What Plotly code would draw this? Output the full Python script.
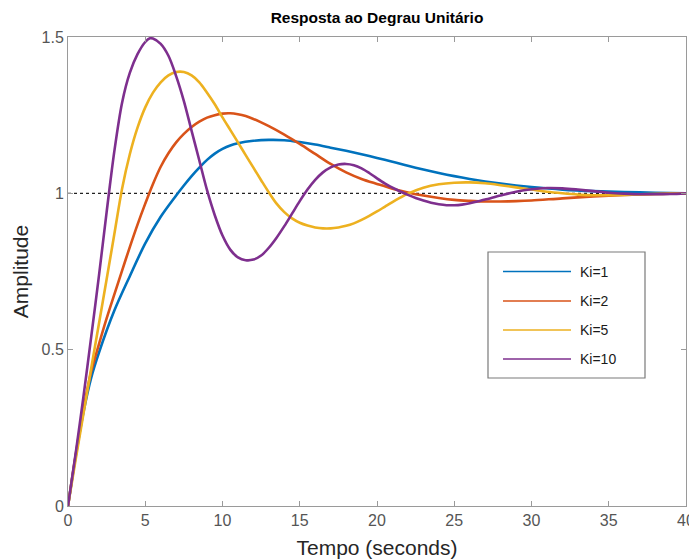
import plotly.graph_objects as go

# ---- data (time in s, amplitude) ----
t_ki1 = [0, 0.5, 1, 1.5, 2, 3, 4, 5, 6, 7, 7.5, 8, 8.5, 9, 9.5, 10, 10.5, 11, 12, 13, 14, 15,
         16, 17, 18, 19, 20, 21, 22, 23, 24, 25, 26, 27, 28, 29, 30, 32, 34, 36, 38, 40]
y_ki1 = [0, 0.16, 0.3, 0.41, 0.49, 0.625, 0.735, 0.84, 0.925, 0.993, 1.025, 1.055, 1.082,
         1.107, 1.127, 1.142, 1.153, 1.16, 1.168, 1.171, 1.17, 1.164, 1.156, 1.146, 1.136,
         1.125, 1.113, 1.101, 1.088, 1.076, 1.065, 1.055, 1.046, 1.038, 1.031, 1.025, 1.02,
         1.012, 1.007, 1.004, 1.002, 1.0]

t_ki2 = [0, 0.5, 1, 1.5, 2, 2.5, 3, 3.5, 4, 4.5, 5, 5.5, 6, 6.5, 7, 7.5, 8, 8.5, 9, 9.5, 10,
         10.5, 11, 11.5, 12, 12.5, 13, 14, 15, 16, 17, 18, 19, 20, 21, 22, 23, 24, 25, 26, 27,
         28, 29, 30, 32, 34, 36, 38, 40]
y_ki2 = [0, 0.165, 0.31, 0.43, 0.517, 0.6, 0.677, 0.753, 0.828, 0.9, 0.967, 1.03, 1.085,
         1.128, 1.163, 1.19, 1.212, 1.229, 1.242, 1.25, 1.255, 1.256, 1.253, 1.247, 1.238,
         1.227, 1.215, 1.188, 1.158, 1.126, 1.094, 1.067, 1.046, 1.03, 1.015, 1.003, 0.993,
         0.985, 0.979, 0.976, 0.974, 0.974, 0.975, 0.977, 0.984, 0.99, 0.995, 0.998, 1.0]

t_ki5 = [0, 0.5, 1, 1.5, 2, 2.5, 3, 3.5, 4, 4.5, 5, 5.5, 6, 6.5, 7, 7.5, 8, 8.5, 9, 9.5, 10,
         10.5, 11, 11.5, 12, 12.5, 13, 13.5, 14, 14.5, 15, 15.5, 16, 16.5, 17, 17.5, 18, 18.5,
         19, 19.5, 20, 20.5, 21, 21.5, 22, 23, 24, 25, 26, 27, 28, 29, 30, 31, 32, 33, 34, 35,
         36, 38, 40]
y_ki5 = [0, 0.15, 0.295, 0.44, 0.582, 0.725, 0.87, 1.015, 1.125, 1.21, 1.275, 1.322, 1.355,
         1.377, 1.388, 1.388, 1.377, 1.355, 1.322, 1.285, 1.243, 1.203, 1.163, 1.122, 1.082,
         1.042, 1.003, 0.967, 0.94, 0.92, 0.906, 0.897, 0.891, 0.888, 0.888, 0.891, 0.896,
         0.904, 0.915, 0.928, 0.942, 0.957, 0.972, 0.986, 0.999, 1.018, 1.029, 1.034, 1.035,
         1.032, 1.026, 1.019, 1.012, 1.005, 1.0, 0.996, 0.994, 0.994, 0.995, 0.998, 1.0]

t_ki10 = [0, 0.5, 1, 1.5, 2, 2.5, 3, 3.5, 4, 4.5, 5, 5.3, 5.5, 6, 6.5, 7, 7.5, 8, 8.5, 9, 9.5,
          10, 10.5, 11, 11.5, 12, 12.5, 13, 13.5, 14, 14.5, 15, 15.5, 16, 16.5, 17, 17.5, 18,
          18.5, 19, 19.5, 20, 20.5, 21, 21.5, 22, 22.5, 23, 23.5, 24, 24.5, 25, 25.5, 26, 26.5,
          27, 28, 29, 30, 31, 32, 33, 34, 35, 36, 37, 38, 39, 40]
y_ki10 = [0, 0.17, 0.35, 0.54, 0.735, 0.94, 1.135, 1.29, 1.385, 1.445, 1.484, 1.496, 1.495,
          1.478, 1.44, 1.375, 1.295, 1.2, 1.105, 1.01, 0.93, 0.865, 0.82, 0.795, 0.786, 0.788,
          0.801, 0.826, 0.858, 0.895, 0.935, 0.975, 1.012, 1.043, 1.067, 1.083, 1.092, 1.094,
          1.09, 1.08, 1.065, 1.048, 1.032, 1.018, 1.006, 0.995, 0.985, 0.977, 0.97, 0.965,
          0.962, 0.962, 0.964, 0.968, 0.974, 0.98, 0.993, 1.005, 1.013, 1.017, 1.016, 1.012,
          1.007, 1.002, 0.999, 0.997, 0.997, 0.998, 1.0]

series_names = ["Ki=1", "Ki=2", "Ki=5", "Ki=10"]
series_t = [t_ki1, t_ki2, t_ki5, t_ki10]
series_y = [y_ki1, y_ki2, y_ki5, y_ki10]
colors = ["#0072BD", "#D95319", "#EDB120", "#7E2F8E"]

final_value = 1.0
x_ticks = [0, 5, 10, 15, 20, 25, 30, 35, 40]
y_ticks = [0, 0.5, 1, 1.5]
y_ticktext = ["0", "0.5", "1", "1.5"]

FONT = "Liberation Sans, Arial, Helvetica, sans-serif"

# page body has an 8px default margin: figure is sized so the plot lands where the reference has it
OFF = 8
W, H = 697 - OFF, 559 - OFF
L, R, T, B = 68 - OFF, 686 - OFF, 37 - OFF, 506 - OFF

fig = go.Figure()
for name, t, y, c in zip(series_names, series_t, series_y, colors):
    fig.add_trace(go.Scatter(x=t, y=y, mode="lines", name=name,
                             line=dict(color=c, width=2.6, shape="spline", smoothing=0.9),
                             showlegend=False))

fig.add_hline(y=final_value, line=dict(color="#222222", width=1.2, dash="dot"), layer="below")

# ---- manual legend (box, line samples, labels) ----
def px(xp):
    return (xp - OFF - L) / (R - L)
def py(yp):
    return (B - (yp - OFF)) / (B - T)

fig.add_shape(type="rect", xref="paper", yref="paper",
              x0=px(488), x1=px(645), y0=py(378), y1=py(252),
              line=dict(color="#7a7a7a", width=1.2), fillcolor="white", layer="above")
entry_y = [271.5, 301, 330, 359]
for name, c, ey in zip(series_names, colors, entry_y):
    fig.add_shape(type="line", xref="paper", yref="paper",
                  x0=px(503), x1=px(571), y0=py(ey), y1=py(ey),
                  line=dict(color=c, width=1.5), layer="above")
    fig.add_annotation(xref="paper", yref="paper", x=px(578), y=py(ey),
                       text=name, showarrow=False, xanchor="left", yanchor="middle",
                       font=dict(family=FONT, size=14, color="#1a1a1a"))

axis_common = dict(showgrid=False, zeroline=False, showline=True, linecolor="#9a9a9a",
                   linewidth=1, mirror="ticks", ticks="inside", ticklen=5,
                   tickcolor="#9a9a9a", tickwidth=1, automargin=False,
                   tickfont=dict(family=FONT, size=16, color="#555555"))

fig.update_layout(
    width=W, height=H,
    margin=dict(l=L, r=W - R, t=T, b=H - B, pad=0),
    paper_bgcolor="white", plot_bgcolor="white",
    showlegend=False,
    title=dict(text="<b>Resposta ao Degrau Unitário</b>", x=(L + R) / 2 / W, xanchor="center",
               y=1 - (18 - OFF) / H, yanchor="middle", yref="container",
               font=dict(family=FONT, size=15.5, color="#000000")),
    xaxis=dict(range=[0, 40], tickvals=x_ticks,
               title=dict(text="Tempo (seconds)", standoff=12,
                          font=dict(family=FONT, size=21, color="#262626")),
               **axis_common),
    yaxis=dict(range=[0, 1.5], tickvals=y_ticks, ticktext=y_ticktext,
               title=dict(text="Amplitude", standoff=7,
                          font=dict(family=FONT, size=21, color="#262626")),
               **axis_common),
)

fig.write_html("out.html")
